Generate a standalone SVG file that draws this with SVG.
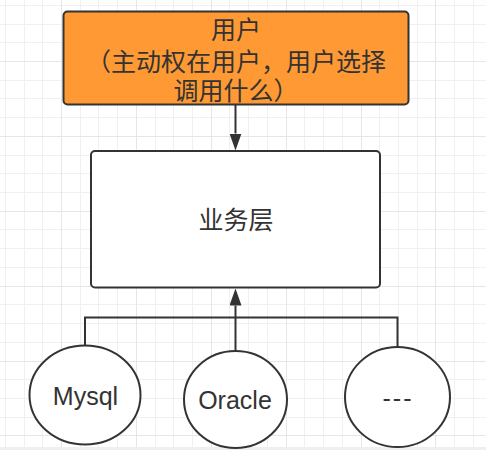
<svg xmlns="http://www.w3.org/2000/svg" width="486" height="450" viewBox="0 0 486 450">
<defs>
<marker id="arrow" markerUnits="userSpaceOnUse" viewBox="0 0 17 12" markerWidth="17" markerHeight="12" refX="0" refY="6" orient="auto">
<path d="M0,0 L17,6 L0,12 Z" fill="#333333"/>
</marker>
</defs>
<style>
.minor{stroke:#f0f0f0;stroke-width:1;fill:none}
.major{stroke:#e6e6e6;stroke-width:1;fill:none}
.shape{stroke:#333333;stroke-width:2}
.conn{stroke:#333333;stroke-width:2;fill:none}
.cjk{font-family:"Liberation Sans","Noto Sans CJK SC","Noto Sans CJK JP",sans-serif;font-size:25px;fill:#333333;text-anchor:middle}
.lat{font-family:"Liberation Sans",Arial,sans-serif;font-size:25px;fill:#333333;text-anchor:middle}
</style>
<rect x="0" y="0" width="486" height="450" fill="#ffffff"/>
<g id="grid">
<path class="minor" d="M5.5,0V447M24.5,0V447M42.5,0V447M80.5,0V447M98.5,0V447M117.5,0V447M155.5,0V447M173.5,0V447M192.5,0V447M229.5,0V447M248.5,0V447M267.5,0V447M304.5,0V447M323.5,0V447M342.5,0V447M379.5,0V447M398.5,0V447M417.5,0V447M454.5,0V447M473.5,0V447M0,5.5H486M0,24.5H486M0,42.5H486M0,80.5H486M0,98.5H486M0,117.5H486M0,155.5H486M0,173.5H486M0,192.5H486M0,229.5H486M0,248.5H486M0,267.5H486M0,304.5H486M0,323.5H486M0,342.5H486M0,379.5H486M0,398.5H486M0,417.5H486"/>
<path class="major" d="M61.5,0V447M136.5,0V447M211.5,0V447M286.5,0V447M361.5,0V447M435.5,0V447M0,61.5H486M0,136.5H486M0,211.5H486M0,286.5H486M0,361.5H486M0,435.5H486"/>
<rect x="0" y="447" width="486" height="3" fill="#efefef"/>
</g>
<g id="connectors">
<path class="conn" d="M235.5,105 V133.5" marker-end="url(#arrow)"/>
<path class="conn" d="M235.5,351 V305.5" marker-end="url(#arrow)"/>
<path class="conn" d="M85,346 V317.5 H397.5 V347"/>
</g>
<g id="user">
<rect class="shape" x="63.5" y="11.5" width="345" height="93" rx="4" fill="#ff9933"/>
<text class="cjk"><tspan x="236" y="39">用户</tspan><tspan x="236" y="70.5">（主动权在用户，用户选择</tspan><tspan x="236" y="100">调用什么）</tspan></text>
</g>
<g id="business">
<rect class="shape" x="91" y="151" width="289" height="136.5" rx="4" fill="#ffffff"/>
<text class="cjk" x="236" y="229">业务层</text>
</g>
<g id="mysql">
<ellipse class="shape" cx="85" cy="395" rx="55.5" ry="49.5" fill="#ffffff"/>
<text class="lat" x="85.5" y="405">Mysql</text>
</g>
<g id="oracle">
<ellipse class="shape" cx="235.5" cy="399.5" rx="51.5" ry="48.5" fill="#ffffff"/>
<text class="lat" x="235" y="408.5">Oracle</text>
</g>
<g id="other">
<ellipse class="shape" cx="397.5" cy="397" rx="52.5" ry="50" fill="#ffffff"/>
<text class="lat" x="398" y="407" letter-spacing="2">---</text>
</g>
</svg>
